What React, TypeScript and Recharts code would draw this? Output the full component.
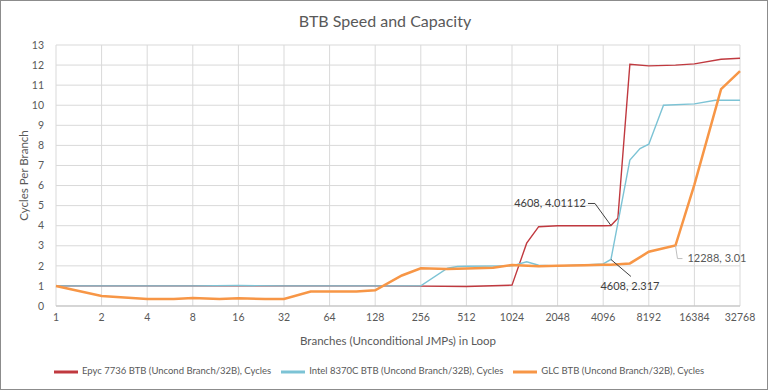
import React from "react";
import {
  LineChart, Line, XAxis, YAxis, CartesianGrid, Legend, ReferenceDot,
} from "recharts";

const epycBranches = [1, 2, 4, 8, 16, 32, 64, 128, 256, 512, 1024, 1280, 1536, 2048, 3072, 4096, 4608, 5120, 6144, 8192, 12288, 16384, 24576, 32768];
const epycCycles = [1.0, 1.0, 1.0, 1.0, 1.0, 1.0, 1.0, 1.0, 0.99, 0.97, 1.04, 3.13, 3.95, 4.0, 4.0, 4.0, 4.01112, 4.37, 12.04, 11.96, 12.0, 12.06, 12.29, 12.34];

const intelBranches = [1, 2, 4, 8, 16, 32, 64, 128, 256, 384, 448, 512, 1024, 1280, 1536, 2048, 3072, 4096, 4608, 6144, 7168, 8192, 10240, 16384, 22528, 32768];
const intelCycles = [1.0, 1.0, 1.0, 1.0, 1.02, 1.0, 1.0, 1.0, 1.0, 1.88, 1.97, 1.98, 2.0, 2.2, 2.03, 2.0, 2.05, 2.1, 2.317, 7.27, 7.84, 8.06, 10.0, 10.07, 10.25, 10.25];

const glcBranches = [1, 2, 4, 6, 8, 12, 16, 24, 32, 48, 64, 96, 128, 192, 256, 384, 512, 768, 1024, 1536, 2048, 3072, 4096, 4608, 6144, 8192, 12288, 16384, 24576, 32768];
const glcCycles = [1.0, 0.5, 0.35, 0.35, 0.4, 0.35, 0.38, 0.35, 0.35, 0.72, 0.72, 0.72, 0.78, 1.52, 1.88, 1.84, 1.87, 1.9, 2.04, 1.98, 2.0, 2.03, 2.05, 2.05, 2.12, 2.7, 3.01, 6.05, 10.8, 11.7];

const xTicks = [1, 2, 4, 8, 16, 32, 64, 128, 256, 512, 1024, 2048, 4096, 8192, 16384, 32768];
const yTicks = [0, 1, 2, 3, 4, 5, 6, 7, 8, 9, 10, 11, 12, 13];

const toPoints = (xs: number[], ys: number[]) =>
  xs.map((b, i) => ({ x: Math.log2(b), y: ys[i] }));

const epycData = toPoints(epycBranches, epycCycles);
const intelData = toPoints(intelBranches, intelCycles);
const glcData = toPoints(glcBranches, glcCycles);

const FONT = "Lato, 'Open Sans', sans-serif";
const TEXT = "#595959";

// little leader line + label, drawn relative to the data point
const callout = (
  pts: [number, number][],
  label: string,
  tx: number,
  ty: number,
  anchor: "start" | "middle" | "end",
  lineColor: string,
  textColor: string
) =>
  (props: any) => {
    const { cx, cy } = props;
    const d = `M${cx},${cy}` + pts.map(([dx, dy]) => ` L${cx + dx},${cy + dy}`).join("");
    return (
      <g>
        <path d={d} fill="none" stroke={lineColor} strokeWidth={1} />
        <text x={cx + tx} y={cy + ty} dy="0.35em" textAnchor={anchor} fontSize={11} fontFamily={FONT} fill={textColor}>
          {label}
        </text>
      </g>
    );
  };

export default function App() {
  return (
    <div style={{ position: "absolute", left: 0, top: 0, width: 768, height: 390, boxSizing: "border-box", border: "1px solid #8c8c8c", background: "#fff", fontFamily: FONT }}>
      <div style={{ position: "absolute", top: 10, left: 0, width: 768, textAlign: "center", fontSize: 16, color: TEXT }}>
        BTB Speed and Capacity
      </div>
      <div style={{ position: "absolute", left: -1, top: -1 }}>
        <LineChart width={768} height={390} margin={{ top: 45, right: 28, bottom: 10, left: 0 }}>
          <CartesianGrid stroke="#D9D9D9" />
          <XAxis
            type="number"
            dataKey="x"
            domain={[0, 15]}
            ticks={xTicks.map((t) => Math.log2(t))}
            interval={0}
            tickFormatter={(v: number) => String(Math.round(2 ** v))}
            tick={{ fill: TEXT, fontSize: 10.5, fontFamily: FONT }}
            tickLine={false}
            tickMargin={2}
            axisLine={{ stroke: "#BFBFBF" }}
            height={54}
            label={{ value: "Branches (Unconditional JMPs) in Loop", position: "insideBottom", offset: 15, fill: TEXT, fontSize: 11.5, fontFamily: FONT }}
          />
          <YAxis
            type="number"
            domain={[0, 13]}
            ticks={yTicks}
            interval={0}
            width={56}
            tick={{ fill: TEXT, fontSize: 10.5, fontFamily: FONT }}
            tickLine={false}
            tickMargin={6}
            axisLine={false}
            label={{ value: "Cycles Per Branch", angle: -90, position: "insideLeft", offset: 24, fill: TEXT, fontSize: 11.5, fontFamily: FONT, style: { textAnchor: "middle" } }}
          />
          <Legend
            verticalAlign="bottom"
            height={20}
            iconSize={24}
            itemSorter="dataKey"
            wrapperStyle={{ fontSize: 9.5, fontFamily: FONT, left: 0, width: 768 }}
            formatter={(value: string) => <span style={{ color: TEXT }}>{value}</span>}
          />
          <Line data={epycData} dataKey="y" name="Epyc 7736 BTB (Uncond Branch/32B), Cycles" stroke="#C0393F" strokeWidth={1.4} dot={false} legendType="plainline" isAnimationActive={false} />
          <Line data={intelData} dataKey="y" name="Intel 8370C BTB (Uncond Branch/32B), Cycles" stroke="#7CC3D5" strokeWidth={1.4} dot={false} legendType="plainline" isAnimationActive={false} />
          <Line data={glcData} dataKey="y" name="GLC BTB (Uncond Branch/32B), Cycles" stroke="#F79646" strokeWidth={2.5} dot={false} legendType="plainline" isAnimationActive={false} />
          <ReferenceDot x={Math.log2(4608)} y={4.01112} r={0} shape={callout([[-16, -22], [-23, -22]], "4608, 4.01112", -25, -22, "end", "#404040", "#404040")} />
          <ReferenceDot x={Math.log2(4608)} y={2.317} r={0} shape={callout([[20, 17]], "4608, 2.317", 19, 27, "middle", "#404040", "#404040")} />
          <ReferenceDot x={Math.log2(12288)} y={3.01} r={0} shape={callout([[2, 13], [7, 13]], "12288, 3.01", 12, 13, "start", "#BFBFBF", TEXT)} />
        </LineChart>
      </div>
    </div>
  );
}
